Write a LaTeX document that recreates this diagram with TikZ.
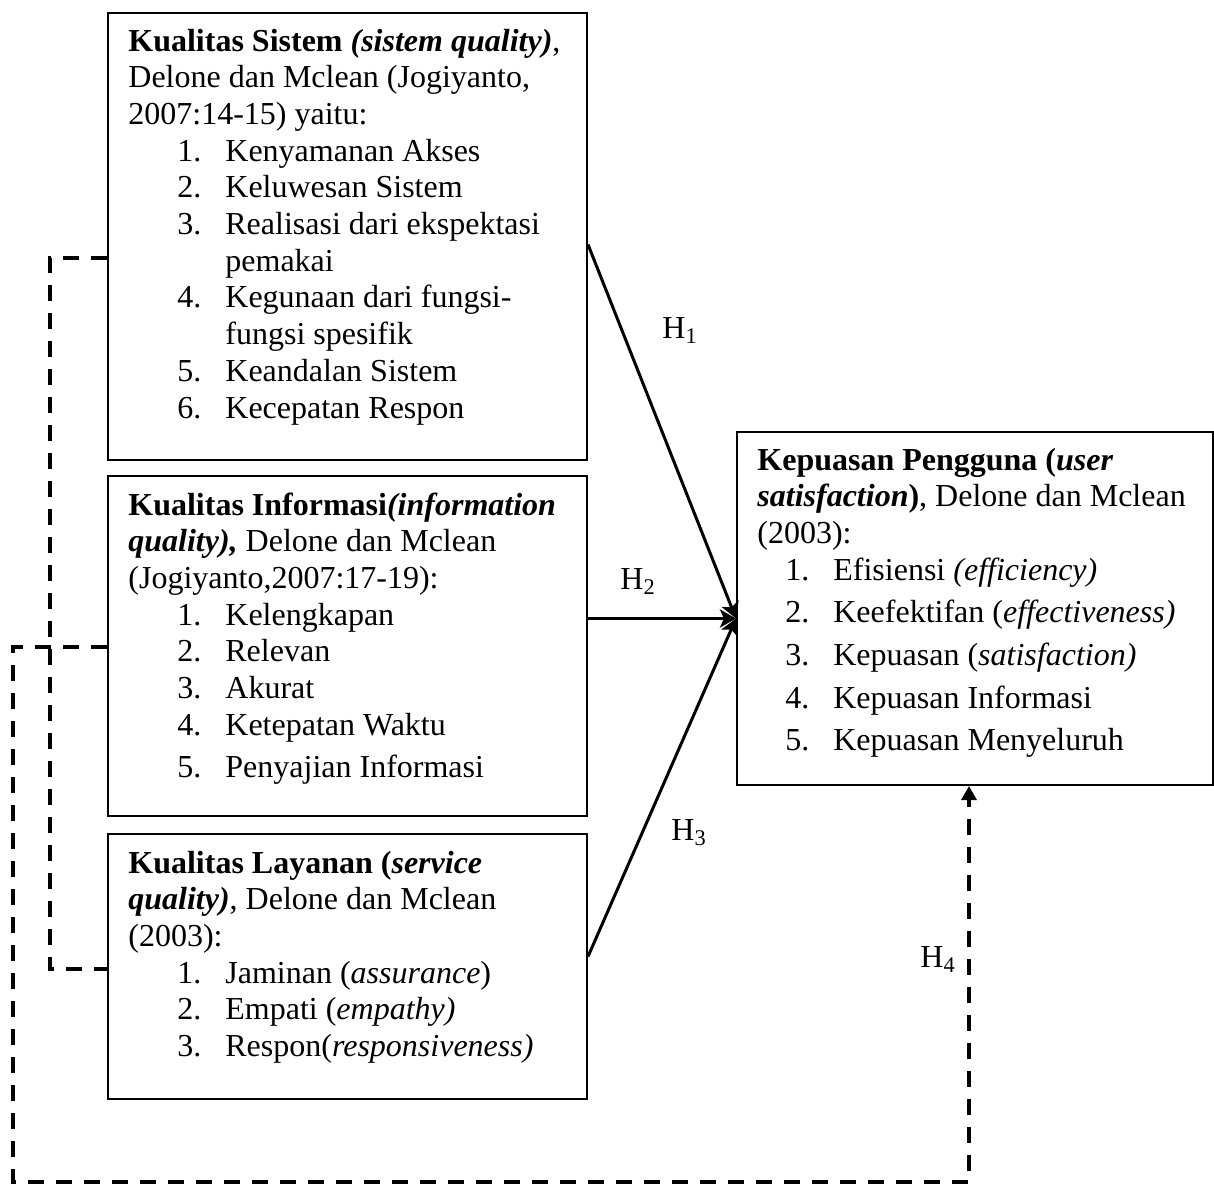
\documentclass[tikz,border=0pt]{standalone}
\usepackage{fontspec}
\setmainfont{Liberation Serif}
\usetikzlibrary{arrows.meta,calc}
\newcommand\litem[3][24.5pt]{\hspace*{#1}\makebox[24pt][l]{#2.}#3}
\newcommand\lcont[1]{\hspace*{48.5pt}#1}
\tikzset{
  boxnode/.style={draw, line width=1pt, anchor=north west, inner sep=0pt},
  txt/.style={anchor=base west, inner sep=0pt, font=\fontsize{16pt}{18.35pt}\selectfont},
  hyp/.style={anchor=base west, inner sep=0pt, font=\fontsize{16pt}{18pt}\selectfont},
  solidarrow/.style={line width=1.5pt, -{Stealth[length=8pt,width=9pt,inset=2pt]}},
  dashline/.style={line width=1.6pt, dash pattern=on 8pt off 6pt},
}
\newcommand\boxtext[1]{\parbox[t]{232pt}{\fontsize{16pt}{18.35pt}\selectfont\raggedright #1}}
\begin{document}
\begin{tikzpicture}[x=0.5pt,y=-0.5pt]
\useasboundingbox (0,0) rectangle (1214,1185);
% boxes
\node[boxnode, minimum width=239.5pt, minimum height=223.5pt] (b1) at (107,12) {};
\node[boxnode, minimum width=239.5pt, minimum height=170pt] (b2) at (107,475) {};
\node[boxnode, minimum width=239.5pt, minimum height=132.5pt] (b3) at (107,833) {};
\node[boxnode, minimum width=238pt, minimum height=176.5pt] (b4) at (736,431) {};
% texts
\node[txt] (t1) at (128,51) {\boxtext{%
\textbf{Kualitas Sistem \textit{(sistem quality)}},\\
Delone dan Mclean (Jogiyanto,\\
2007:14-15) yaitu:\\
\litem{1}{Kenyamanan Akses}\\
\litem{2}{Keluwesan Sistem}\\
\litem{3}{Realisasi dari ekspektasi}\\
\lcont{pemakai}\\
\litem{4}{Kegunaan dari fungsi-}\\
\lcont{fungsi spesifik}\\
\litem{5}{Keandalan Sistem}\\
\litem{6}{Kecepatan Respon}}};
\node[txt] (t2) at (128,515) {\boxtext{%
\textbf{Kualitas Informasi\textit{(information}}\\
\textbf{\textit{quality),}} Delone dan Mclean\\
(Jogiyanto,2007:17-19):\\
\litem{1}{Kelengkapan}\\
\litem{2}{Relevan}\\
\litem{3}{Akurat}\\
\litem{4}{Ketepatan Waktu}\\[3pt]
\litem{5}{Penyajian Informasi}}};
\node[txt] (t3) at (128,873) {\boxtext{%
\textbf{Kualitas Layanan (\textit{service}}\\
\textbf{\textit{quality)}}, Delone dan Mclean\\
(2003):\\
\litem{1}{Jaminan (\textit{assurance})}\\
\litem{2}{Empati (\textit{empathy)}}\\
\litem{3}{Respon(\textit{responsiveness)}}}};
\node[txt] (t4) at (757,470) {\boxtext{%
\textbf{Kepuasan Pengguna (\textit{user}}\\
\textbf{\textit{satisfaction})}, Delone dan Mclean\\
(2003):\\
\litem[14pt]{1}{Efisiensi \textit{(efficiency)}}\\[3pt]
\litem[14pt]{2}{Keefektifan (\textit{effectiveness)}}\\[3pt]
\litem[14pt]{3}{Kepuasan (\textit{satisfaction)}}\\[3pt]
\litem[14pt]{4}{Kepuasan Informasi}\\[3pt]
\litem[14pt]{5}{Kepuasan Menyeluruh}}};
% hypothesis labels
\node[hyp] (h1) at (662,338) {H\textsubscript{1}};
\node[hyp] (h2) at (620,589) {H\textsubscript{2}};
\node[hyp] (h3) at (671,840) {H\textsubscript{3}};
\node[hyp] (h4) at (920,967) {H\textsubscript{4}};
% connectors
\coordinate (tgt) at ([yshift=-5pt]b4.west);
\draw[solidarrow] ([yshift=-4pt]b1.east) -- (tgt);
\draw[solidarrow] (b2.east |- tgt) -- (tgt);
\draw[solidarrow] ([yshift=5pt]b3.east) -- (tgt);
\draw[dashline] ([yshift=-10.75pt]b1.west) -- ++(-57,0) |- ([yshift=-1.25pt]b3.west);
\draw[dashline, -{Triangle[length=7pt,width=7.5pt]}] ([yshift=-0.5pt]b2.west) -- ++(-94,0) -- ++(0,535) -| ([xshift=-3pt]b4.south);
\end{tikzpicture}
\end{document}
